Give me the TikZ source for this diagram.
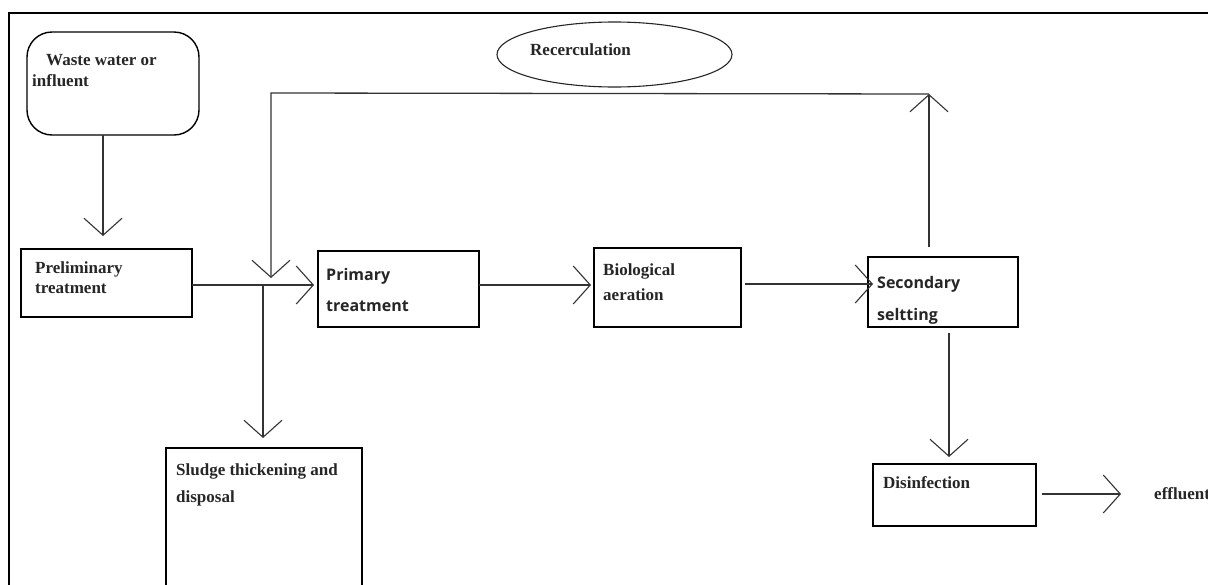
\documentclass[tikz,border=0pt]{standalone}
\usepackage{fontspec}
\setmainfont{Liberation Serif}
\newfontfamily\boxsans{Open Sans}
\usetikzlibrary{arrows.meta,shapes.geometric}
\begin{document}
\begin{tikzpicture}[x=1pt,y=-1pt,
  boxnode/.style={draw=black,line width=1.4pt,rectangle,anchor=north west,inner sep=0pt,outer sep=0pt},
  serifbold/.style={anchor=base west,inner sep=0pt,font=\fontsize{17}{20}\selectfont\bfseries,text=black!85},
  sansbold/.style={anchor=base west,inner sep=0pt,font=\boxsans\fontsize{16}{20}\selectfont\bfseries,text=black!85},
  conn/.style={draw=black!80,line width=1.3pt},
  arr/.style={conn,-{Straight Barb[length=17pt,width=38pt,line width=1.1pt]}}
]
\useasboundingbox (0,0) rectangle (1208,584);
\clip (0,0) rectangle (1208,584);
\fill[white] (0,0) rectangle (1208,584);
% frame
\coordinate (ftl) at (9,13);
\coordinate (ftr) at (1210,13);
\coordinate (fbl) at (9,590);
\draw[black,line width=1.6pt] (fbl) -- (ftl) -- (ftr);

% boxes
\node[boxnode,rounded corners=25pt,minimum width=172pt,minimum height=103pt] (waste) at (27,32) {};
\node[boxnode,minimum width=171pt,minimum height=68pt] (pre) at (21,249) {};
\node[boxnode,minimum width=161pt,minimum height=76pt] (prim) at (318,251) {};
\node[boxnode,minimum width=147pt,minimum height=79pt] (bio) at (594,248) {};
\node[boxnode,minimum width=150pt,minimum height=70pt] (sec) at (868,257) {};
\node[boxnode,minimum width=163pt,minimum height=62pt] (dis) at (873,464) {};
\node[boxnode,minimum width=196pt,minimum height=145pt] (sludge) at (166,448) {};
\node[draw=black!85,line width=1.1pt,ellipse,minimum width=235pt,minimum height=65pt,inner sep=0pt] (rec) at (614.5,54.5) {};

% texts
\node[serifbold] (twaste1) at (46,65) {Waste water or};
\node[serifbold] (twaste2) at (32,86) {influent};
\node[serifbold] (tpre1) at (35,273) {Preliminary};
\node[serifbold] (tpre2) at (35,293) {treatment};
\node[sansbold] (tprim1) at (326,280) {Primary};
\node[sansbold] (tprim2) at (326,311) {treatment};
\node[serifbold] (tbio1) at (603,275) {Biological};
\node[serifbold] (tbio2) at (603,300) {aeration};
\node[sansbold] (tsec1) at (877,288) {Secondary};
\node[sansbold] (tsec2) at (877,320) {seltting};
\node[serifbold] (tsl1) at (176,475) {Sludge thickening and};
\node[serifbold] (tsl2) at (176,502) {disposal};
\node[serifbold] (tdis) at (883,488) {Disinfection};
\node[serifbold] (teff) at (1154,499) {effluent};
\node[serifbold] (trec) at (530,55) {Recerculation};

% helper coordinates
\coordinate (w1) at (103,135);
\coordinate (w2) at (103,236);
\coordinate (p1) at (192,285);
\coordinate (p2) at (314,285);
\coordinate (j) at (263,285);
\coordinate (j2) at (263,438);
\coordinate (q1) at (479,285);
\coordinate (q2) at (591,285);
\coordinate (b1) at (745,284);
\coordinate (b2) at (873,284);
\coordinate (s1) at (929,247);
\coordinate (s2) at (929,94);
\coordinate (r1) at (271,93);
\coordinate (r2) at (271,278);
\coordinate (d1) at (949,333);
\coordinate (d2) at (949,457);
\coordinate (e1) at (1042,494);
\coordinate (e2) at (1121,494);

% connectors
\draw[arr] (w1) -- (w2);
\draw[arr] (p1) -- (p2);
\draw[arr] (j) -- (j2);
\draw[arr] (q1) -- (q2);
\draw[arr] (b1) -- (b2);
\draw[arr] (s1) -- (s2);
\draw[arr] (s2) -- (r1) -- (r2);
\draw[arr] (d1) -- (d2);
\draw[arr] (e1) -- (e2);
\end{tikzpicture}
\end{document}
